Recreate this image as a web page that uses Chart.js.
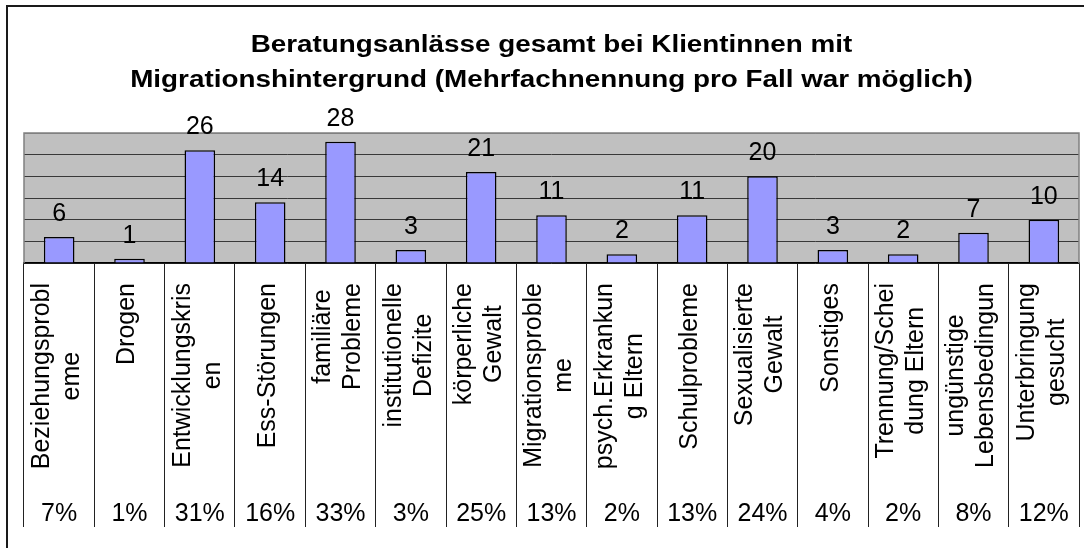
<!DOCTYPE html>
<html>
<head>
<meta charset="utf-8">
<script src="https://cdn.jsdelivr.net/npm/chart.js@4/dist/chart.umd.min.js"></script>
<style>
  html, body { margin: 0; padding: 0; background: #ffffff; }
  #wrap { width: 1084px; height: 548px; }
</style>
</head>
<body>
<div id="wrap"><canvas id="c" width="1084" height="548"></canvas></div>
<script>
// ---- data ----
const titleLines = [
  'Beratungsanlässe gesamt bei Klientinnen mit',
  'Migrationshintergrund (Mehrfachnennung pro Fall war möglich)'
];
const categories = [
  ['Beziehungsprobl', 'eme'],
  ['Drogen'],
  ['Entwicklungskris', 'en'],
  ['Ess-Störungen'],
  ['familiäre', 'Probleme'],
  ['institutionelle', 'Defizite'],
  ['körperliche', 'Gewalt'],
  ['Migrationsproble', 'me'],
  ['psych.Erkrankun', 'g Eltern'],
  ['Schulprobleme'],
  ['Sexualisierte', 'Gewalt'],
  ['Sonstiges'],
  ['Trennung/Schei', 'dung Eltern'],
  ['ungünstige', 'Lebensbedingun'],
  ['Unterbringung', 'gesucht']
];
const counts = [6, 1, 26, 14, 28, 3, 21, 11, 2, 11, 20, 3, 2, 7, 10];
const percentLabels = ['7%', '1%', '31%', '16%', '33%', '3%', '25%', '13%', '2%', '13%', '24%', '4%', '2%', '8%', '12%'];
const yMin = 0;
const yMax = 30;
const yStep = 5;

// ---- styles ----
const FONT = '"Liberation Sans", Arial, Helvetica, sans-serif';
const TEXT_PX = 25;
const TITLE_PX = 23;
const TITLE_SCALE_X = 1.21;

const decorPlugin = {
  id: 'decor',
  beforeDraw(chart) {
    const ctx = chart.ctx;
    const a = chart.chartArea;
    ctx.save();
    ctx.fillStyle = '#ffffff';
    ctx.fillRect(0, 0, chart.width, chart.height);
    // outer chart border (cropped at right/bottom)
    ctx.strokeStyle = '#1a1a1a';
    ctx.lineWidth = 2;
    ctx.beginPath();
    ctx.moveTo(7, chart.height + 5);
    ctx.lineTo(7, 6);
    ctx.lineTo(chart.width + 5, 6);
    ctx.stroke();
    // plot background
    ctx.fillStyle = '#c0c0c0';
    ctx.fillRect(a.left, a.top, a.right - a.left, a.bottom - a.top);
    ctx.restore();
  },
  beforeDatasetsDraw(chart) {
    const ctx = chart.ctx;
    const a = chart.chartArea;
    ctx.save();
    ctx.strokeStyle = '#808080';
    ctx.lineWidth = 1.5;
    ctx.beginPath();
    ctx.moveTo(a.left, a.bottom);
    ctx.lineTo(a.left, a.top);
    ctx.lineTo(a.right, a.top);
    ctx.lineTo(a.right, a.bottom);
    ctx.stroke();
    ctx.restore();
  },
  afterDatasetsDraw(chart) {
    const ctx = chart.ctx;
    const meta = chart.getDatasetMeta(0);
    ctx.save();
    ctx.fillStyle = '#000000';
    ctx.font = TEXT_PX + 'px ' + FONT;
    ctx.textAlign = 'center';
    ctx.textBaseline = 'alphabetic';
    meta.data.forEach((el, i) => {
      ctx.fillText(String(counts[i]), el.x, el.y - 16);
    });
    ctx.restore();
  },
  afterDraw(chart) {
    const ctx = chart.ctx;
    const a = chart.chartArea;
    const xs = chart.scales.x;
    ctx.save();
    ctx.fillStyle = '#000000';
    // title
    ctx.font = 'bold ' + TITLE_PX + 'px ' + FONT;
    ctx.textAlign = 'center';
    ctx.textBaseline = 'alphabetic';
    const cx = (a.left + a.right) / 2;
    titleLines.forEach((line, j) => {
      ctx.save();
      ctx.translate(cx, 52 + j * 35);
      ctx.scale(TITLE_SCALE_X, 1);
      ctx.fillText(line, 0, 0);
      ctx.restore();
    });
    // category labels (rotated) and percentage row
    ctx.font = TEXT_PX + 'px ' + FONT;
    categories.forEach((lines, i) => {
      const x = xs.getPixelForValue(i);
      const w = Math.max(...lines.map(l => ctx.measureText(l).width));
      const topY = a.bottom + 20;
      ctx.save();
      ctx.translate(x, topY + w / 2);
      ctx.rotate(-Math.PI / 2);
      ctx.textAlign = 'center';
      ctx.textBaseline = 'middle';
      const n = lines.length;
      lines.forEach((l, j) => {
        ctx.fillText(l, 0, -2 + (j - (n - 1) / 2) * 30);
      });
      ctx.restore();
      ctx.textAlign = 'center';
      ctx.textBaseline = 'alphabetic';
      ctx.fillText(percentLabels[i], x, a.bottom + 258);
    });
    ctx.restore();
  }
};

new Chart(document.getElementById('c'), {
  type: 'bar',
  data: {
    labels: categories,
    datasets: [{
      data: counts,
      backgroundColor: '#9999ff',
      borderColor: '#000000',
      borderWidth: 1.5,
      barPercentage: 0.435,
      categoryPercentage: 1.0
    }]
  },
  options: {
    responsive: false,
    animation: false,
    devicePixelRatio: 1,
    layout: { padding: { left: 24, right: 5, top: 133, bottom: 0 } },
    plugins: {
      legend: { display: false },
      tooltip: { enabled: false },
      title: { display: false }
    },
    scales: {
      x: {
        grid: {
          offset: true,
          drawOnChartArea: false,
          drawTicks: true,
          tickLength: 264,
          color: '#222222',
          lineWidth: 1
        },
        border: { display: true, color: '#000000', width: 1.5 },
        ticks: { display: false },
        afterFit(s) { s.height = 285; }
      },
      y: {
        min: yMin,
        max: yMax,
        ticks: { stepSize: yStep, display: false },
        grid: {
          drawTicks: false,
          color: (c) => (c.tick && c.tick.value === yMax) ? '#808080' : '#383838',
          lineWidth: 1
        },
        border: { display: false },
        afterFit(s) { s.width = 0; }
      }
    }
  },
  plugins: [decorPlugin]
});
</script>
</body>
</html>
